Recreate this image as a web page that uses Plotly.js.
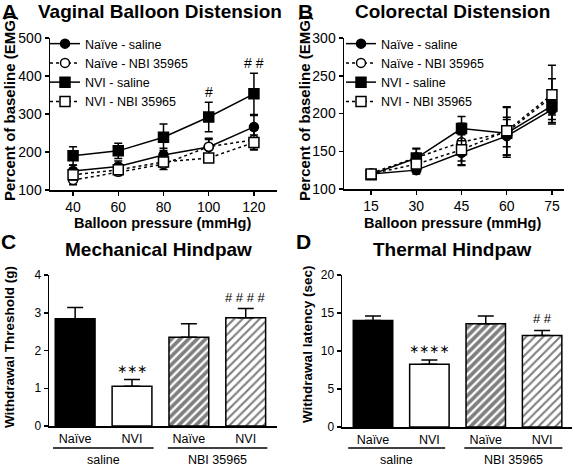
<!DOCTYPE html>
<html><head><meta charset="utf-8">
<script src="https://cdn.plot.ly/plotly-3.0.1.min.js"></script>
<style>html,body{margin:0;padding:0;background:#fff}#chart{width:575px;height:466px}</style>
</head><body><div id="chart"></div>
<script>
// ---------- DATA ----------
const seriesNames = ["Naïve - saline", "Naïve - NBI 35965", "NVI - saline", "NVI - NBI 35965"];

const pressureA = [40, 60, 80, 100, 120];
const vbdNaiveSaline = [150, 162, 192, 213, 266];
const vbdNaiveSalineErr = [15, 14, 18, 20, 30];
const vbdNaiveNBI = [126, 148, 168, 214, 232];
const vbdNaiveNBIErr = [12, 10, 14, 22, 25];
const vbdNVISaline = [190, 203, 239, 292, 353];
const vbdNVISalineErr = [24, 20, 35, 39, 54];
const vbdNVINBI = [140, 153, 174, 184, 225];
const vbdNVINBIErr = [14, 10, 12, 10, 20];
const vbdSig = ["", "", "", "#", "# #"];

const pressureB = [15, 30, 45, 60, 75];
const crdNaiveSaline = [120, 125, 148, 170, 205];
const crdNaiveSalineErr = [4, 5, 17, 25, 17];
const crdNaiveNBI = [121, 142, 162, 175, 222];
const crdNaiveNBIErr = [4, 12, 25, 33, 24];
const crdNVISaline = [119, 141, 180, 174, 210];
const crdNVISalineErr = [4, 12, 16, 18, 18];
const crdNVINBI = [120, 133, 152, 177, 225];
const crdNVINBIErr = [4, 10, 20, 32, 39];

const barLabels = ["Naïve", "NVI", "Naïve", "NVI"];
const groupLabels = ["saline", "NBI 35965"];
const mechValues = [2.84, 1.05, 2.35, 2.87];
const mechErr = [0.30, 0.18, 0.36, 0.24];
const mechSig = ["", "∗∗∗", "", "# # # #"];
const thermValues = [14.0, 8.25, 13.6, 12.05];
const thermErr = [0.6, 0.55, 1.0, 0.65];
const thermSig = ["", "∗∗∗∗", "", "# #"];

// ---------- STYLE / LAYOUT ----------
const W = 575, H = 466;
const px = x => x / W, py = y => 1 - y / H;
const FONT = "Liberation Sans, Arial, Helvetica, sans-serif";
const lineStyles = [
  {dash: "solid", symbol: "circle", fill: "#000"},
  {dash: "dot", symbol: "circle", fill: "#fff"},
  {dash: "solid", symbol: "square", fill: "#000"},
  {dash: "dot", symbol: "square", fill: "#fff"}
];

function lineTrace(x, y, err, i, xa, ya, legend) {
  const s = lineStyles[i];
  return {
    type: "scatter", mode: "lines+markers", x: x, y: y,
    name: seriesNames[i], xaxis: xa, yaxis: ya, legend: legend,
    line: {color: "#000", width: 1.5, dash: s.dash},
    marker: {symbol: s.symbol, size: s.symbol === "square" ? 10 : 9, color: s.fill, line: {color: "#000", width: 1.5}},
    error_y: {type: "data", array: err, visible: true, color: "#000", thickness: 1.5, width: 4},
    cliponaxis: false
  };
}

const idx = barLabels.map((_, i) => i);
const barStyles = [
  {color: "#000", shape: ""},
  {color: "#fff", shape: ""},
  {color: "#fff", shape: "/", solidity: 0.62},
  {color: "#fff", shape: "/", solidity: 0.36}
];

function barTraces(vals, errs, xa, ya) {
  return idx.map(i => {
    const st = barStyles[i];
    const marker = {color: st.color, line: {color: "#000", width: 1.5}};
    if (st.shape) marker.pattern = {shape: st.shape, fgcolor: "#000", bgcolor: "#fff", size: 6, solidity: st.solidity, fillmode: "overlay"};
    return {
      type: "bar", x: [idx[i]], y: [vals[i]], xaxis: xa, yaxis: ya, width: 0.7, showlegend: false,
      marker: marker,
      error_y: {type: "data", symmetric: false, array: [errs[i]], arrayminus: [0], color: "#000", thickness: 1.5, width: 8}
    };
  });
}

const data = [];
[vbdNaiveSaline, vbdNaiveNBI, vbdNVISaline, vbdNVINBI].forEach((y, i) =>
  data.push(lineTrace(pressureA, y, [vbdNaiveSalineErr, vbdNaiveNBIErr, vbdNVISalineErr, vbdNVINBIErr][i], i, "x", "y", "legend")));
[crdNaiveSaline, crdNaiveNBI, crdNVISaline, crdNVINBI].forEach((y, i) =>
  data.push(lineTrace(pressureB, y, [crdNaiveSalineErr, crdNaiveNBIErr, crdNVISalineErr, crdNVINBIErr][i], i, "x2", "y2", "legend2")));
barTraces(mechValues, mechErr, "x3", "y3").forEach(t => data.push(t));
barTraces(thermValues, thermErr, "x4", "y4").forEach(t => data.push(t));

const axisCommon = {
  showgrid: false, zeroline: false, showline: true, linecolor: "#000", linewidth: 1.5,
  ticks: "outside", ticklen: 4, tickwidth: 1.5, tickcolor: "#000",
  tickfont: {family: FONT, size: 14, color: "#000"}, fixedrange: true
};
const barTickFont = {family: FONT, size: 12.5, color: "#000"};

const annotations = [];
function txt(text, x, y, size, bold, extra) {
  annotations.push(Object.assign({
    text: bold ? "<b>" + text + "</b>" : text, xref: "paper", yref: "paper",
    x: px(x), y: py(y), showarrow: false, xanchor: "center", yanchor: "middle",
    font: {family: FONT, size: size, color: "#000"}
  }, extra || {}));
}
// panel letters & titles
txt("A", 9, 11, 21, true);
txt("Vaginal Balloon Distension", 160, 12, 19, true);
txt("B", 305, 11, 21, true);
txt("Colorectal Distension", 452, 12, 19, true);
txt("C", 8, 241, 21, true);
txt("Mechanical Hindpaw", 158, 250, 19, true);
txt("D", 303, 241, 21, true);
txt("Thermal Hindpaw", 452, 250, 19, true);
// axis titles
txt("Percent of baseline (EMG)", 9, 108, 15, true, {textangle: -90});
txt("Percent of baseline (EMG)", 304, 108, 15, true, {textangle: -90});
txt("Balloon pressure (mmHg)", 162, 223, 14.5, true);
txt("Balloon pressure (mmHg)", 452, 223, 14.5, true);
txt("Withdrawal Threshold (g)", 9, 347, 13.5, true, {textangle: -90});
txt("Withdrawal latency (sec)", 307, 345, 13.5, true, {textangle: -90});
// group labels
const groupSpansC = [[-0.39, 1.38], [1.63, 3.38]];
const groupSpansD = [[-0.44, 1.28], [1.62, 3.36]];
const shapes = [];
[[groupSpansC, "x3"], [groupSpansD, "x4"]].forEach(([spans, xa]) => {
  spans.forEach((sp, g) => {
    shapes.push({type: "line", xref: xa, yref: "paper", x0: sp[0], x1: sp[1], y0: py(448), y1: py(448), line: {color: "#000", width: 1.5}});
    annotations.push({text: groupLabels[g], xref: xa, yref: "paper", x: (sp[0] + sp[1]) / 2, y: py(460),
      showarrow: false, xanchor: "center", yanchor: "middle", font: {family: FONT, size: 12.5, color: "#000"}});
  });
});
// significance marks
vbdSig.forEach((s, i) => { if (s) annotations.push({text: s, xref: "x", yref: "y", x: pressureA[i], y: vbdNVISalineErr[i] + vbdNVISaline[i],
  showarrow: false, yanchor: "bottom", yshift: 0, font: {family: FONT, size: 14, color: "#000"}}); });
mechSig.forEach((s, i) => { if (s) annotations.push({text: s, xref: "x3", yref: "y3", x: i, y: mechValues[i] + mechErr[i],
  showarrow: false, yanchor: "bottom", yshift: 2, font: {family: s[0] === "#" ? FONT : "DejaVu Sans", size: s[0] === "#" ? 13 : 12, color: "#000"}}); });
thermSig.forEach((s, i) => { if (s) annotations.push({text: s, xref: "x4", yref: "y4", x: i, y: thermValues[i] + thermErr[i],
  showarrow: false, yanchor: "bottom", yshift: 2, font: {family: s[0] === "#" ? FONT : "DejaVu Sans", size: s[0] === "#" ? 13 : 12, color: "#000"}}); });

const legendCommon = {
  bgcolor: "rgba(0,0,0,0)", borderwidth: 0, xanchor: "left", yanchor: "top",
  font: {family: FONT, size: 12.5, color: "#000"}, itemwidth: 30, tracegroupgap: 0
};

const layout = {
  width: W, height: H, margin: {l: 0, r: 0, t: 0, b: 0},
  paper_bgcolor: "#fff", plot_bgcolor: "#fff", showlegend: true, barmode: "overlay",
  font: {family: FONT, color: "#000"},
  legend: Object.assign({x: px(45), y: py(29)}, legendCommon),
  legend2: Object.assign({x: px(341), y: py(29)}, legendCommon),
  xaxis: Object.assign({}, axisCommon, {domain: [px(50), px(277)], range: [29.8, 130.2], tickvals: pressureA, anchor: "y"}),
  yaxis: Object.assign({}, axisCommon, {domain: [py(190), py(38)], range: [100, 500], dtick: 100, anchor: "x"}),
  xaxis2: Object.assign({}, axisCommon, {domain: [px(344), px(564)], range: [6, 79], tickvals: pressureB, anchor: "y2"}),
  yaxis2: Object.assign({}, axisCommon, {domain: [py(189), py(38)], range: [100, 300], dtick: 50, anchor: "x2"}),
  xaxis3: Object.assign({}, axisCommon, {domain: [px(49), px(277)], range: [-0.46, 3.55], tickvals: idx, ticktext: barLabels, ticks: "", tickfont: barTickFont, anchor: "y3"}),
  yaxis3: Object.assign({}, axisCommon, {domain: [py(426), py(275)], range: [0, 4], dtick: 1, tickfont: {family: FONT, size: 12, color: "#000"}, anchor: "x3"}),
  xaxis4: Object.assign({}, axisCommon, {domain: [px(342), px(572)], range: [-0.55, 3.53], tickvals: idx, ticktext: barLabels, ticks: "", tickfont: barTickFont, anchor: "y4"}),
  yaxis4: Object.assign({}, axisCommon, {domain: [py(427), py(275)], range: [0, 20], dtick: 5, tickfont: {family: FONT, size: 12, color: "#000"}, anchor: "x4"}),
  annotations: annotations, shapes: shapes
};

Plotly.newPlot("chart", data, layout, {displayModeBar: false, staticPlot: true});
</script></body></html>
